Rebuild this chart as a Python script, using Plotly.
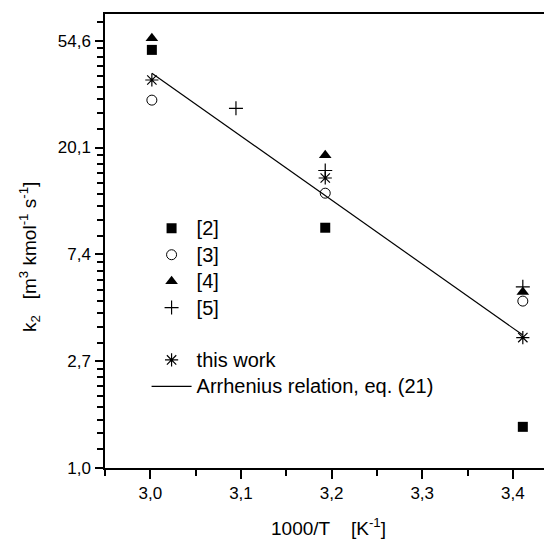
import math
import plotly.graph_objects as go

# ---- data ----
x_ref2 = [3.0017, 3.193, 3.411]
y_ref2 = [50.1, 9.48, 1.47]
x_ref3 = [3.0017, 3.193, 3.411]
y_ref3 = [31.3, 13.1, 4.77]
x_ref4 = [3.0017, 3.193, 3.411]
y_ref4 = [55.9, 18.7, 5.2]
x_ref5 = [3.0945, 3.193, 3.411]
y_ref5 = [29.0, 16.2, 5.45]
x_this = [3.0017, 3.193, 3.411]
y_this = [37.8, 15.1, 3.39]
x_fit = [3.0017, 3.411]
y_fit = [40.3, 3.47]

x_ticks = [3.0, 3.1, 3.2, 3.3, 3.4]
x_ticktext = ["3,0", "3,1", "3,2", "3,3", "3,4"]
y_ticks = [math.e ** k for k in range(5)]
y_ticktext = ["1,0", "2,7", "7,4", "20,1", "54,6"]

Y_TOP_LN = 4.25
# minor ticks: 8 linear subdivisions between successive powers of e
y_minor = []
for k in range(5):
    lo, hi = math.e ** k, math.e ** (k + 1)
    for j in range(1, 9):
        v = lo + j * (hi - lo) / 9
        if math.log(v) < Y_TOP_LN:
            y_minor.append(v)

all_y_ticks = y_ticks + y_minor
all_y_text = y_ticktext + [""] * len(y_minor)

FONT = "Liberation Sans, Arial, sans-serif"
LEG = '<span style="font-size:20px">{}</span>'
y_range = [0, Y_TOP_LN / math.log(10)]

fig = go.Figure()
fig.add_trace(go.Scatter(x=x_ref2, y=y_ref2, mode="markers", name=LEG.format("[2]"),
                         legendgroup="a",
                         marker=dict(symbol="square", size=10, color="black")))
fig.add_trace(go.Scatter(x=x_ref3, y=y_ref3, mode="markers", name=LEG.format("[3]"),
                         legendgroup="a",
                         marker=dict(symbol="circle-open", size=10, color="black",
                                     line=dict(width=1, color="black"))))
fig.add_trace(go.Scatter(x=x_ref4, y=y_ref4, mode="markers", name=LEG.format("[4]"),
                         legendgroup="a",
                         marker=dict(symbol="triangle-up", size=11, color="black")))
fig.add_trace(go.Scatter(x=x_ref5, y=y_ref5, mode="markers", name=LEG.format("[5]"),
                         legendgroup="a",
                         marker=dict(symbol="cross-thin-open", size=10, color="black",
                                     line=dict(width=1.2, color="black"))))
fig.add_trace(go.Scatter(x=x_this, y=y_this, mode="markers", name=LEG.format("this work"),
                         legendgroup="b",
                         marker=dict(symbol="asterisk-open", size=11, color="black",
                                     line=dict(width=1.2, color="black"))))
fig.add_trace(go.Scatter(x=x_fit, y=y_fit, mode="lines",
                         name=LEG.format("Arrhenius relation, eq. (21)"),
                         legendgroup="b",
                         line=dict(color="black", width=1.2)))
# empty helper trace so the overlay axis carrying the long major ticks is drawn
fig.add_trace(go.Scatter(x=[None], y=[None], yaxis="y2", mode="markers",
                         showlegend=False, hoverinfo="skip"))

fig.update_layout(
    width=544, height=531,
    margin=dict(l=97, r=0, t=6, b=71),
    paper_bgcolor="white", plot_bgcolor="white",
    font=dict(family=FONT, size=17, color="black"),
    showlegend=True,
    legend=dict(x=0.093, y=0.568, xanchor="left", yanchor="top",
                bgcolor="rgba(0,0,0,0)", borderwidth=0, itemwidth=40,
                font=dict(family=FONT, size=18, color="black"),
                traceorder="grouped", tracegroupgap=26),
    xaxis=dict(range=[2.95, 3.4432], tickmode="array", tickvals=x_ticks,
               ticktext=x_ticktext, ticks="outside", ticklen=9, tickwidth=1.8,
               tickcolor="black", showline=True, linecolor="black", linewidth=1.5,
               mirror=True, showgrid=False, zeroline=False,
               tickfont=dict(family=FONT, size=17),
               minor=dict(dtick=0.05, tick0=3.0, ticks="outside", ticklen=6,
                          tickwidth=1.8, tickcolor="black", showgrid=False),
               title=dict(text="1000/T    [K<sup>-1</sup>]",
                          font=dict(family=FONT, size=19), standoff=22)),
    yaxis=dict(type="log", range=y_range, tickmode="array",
               tickvals=all_y_ticks, ticktext=all_y_text, ticks="outside", ticklen=6,
               ticklabelstandoff=3,
               tickwidth=1.8, tickcolor="black", showline=True, linecolor="black",
               linewidth=1.5, showgrid=False, zeroline=False,
               tickfont=dict(family=FONT, size=17),
               title=dict(text="k<sub>2</sub>   [m<sup>3</sup> kmol<sup>-1</sup> s<sup>-1</sup>]"
                               "&nbsp;&nbsp;&nbsp;&nbsp;&nbsp;&nbsp;",
                          font=dict(family=FONT, size=19), standoff=16)),
    yaxis2=dict(type="log", range=y_range, overlaying="y", side="left", anchor="x",
                tickmode="array", tickvals=y_ticks, ticks="outside", ticklen=9,
                tickwidth=1.8, tickcolor="black", showticklabels=False,
                showline=False, showgrid=False, zeroline=False),
)

fig.write_html("out.html")
